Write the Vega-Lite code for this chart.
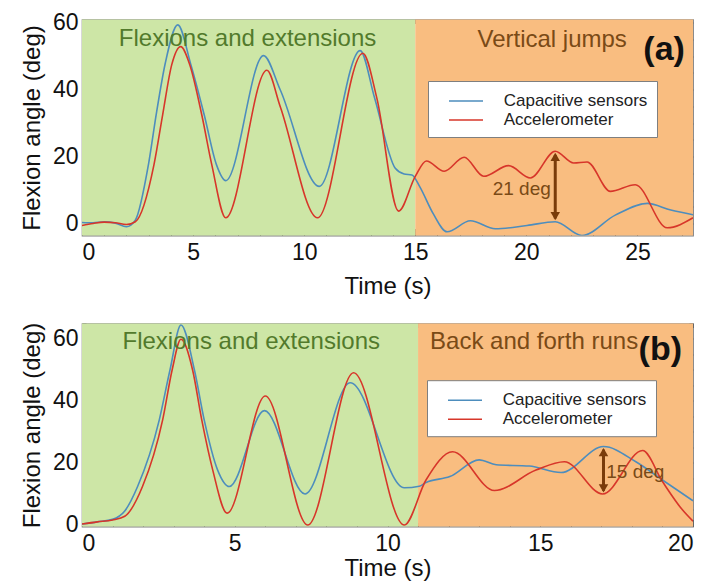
{
  "$schema": "https://vega.github.io/schema/vega-lite/v6.json",
  "background": "white",
  "padding": {"left": 19, "top": 10.5, "right": 5, "bottom": 0},
  "spacing": 22,
  "config": {
    "font": "Liberation Sans",
    "view": {"stroke": "#7f7f7f", "strokeWidth": 1.2},
    "axis": {"domain": false, "grid": false, "labelFont": "Liberation Sans", "labelFontSize": 23, "labelColor": "#111", "titleFont": "Liberation Sans", "titleFontSize": 24, "titleFontWeight": "normal", "titleColor": "#111", "tickColor": "#666", "tickWidth": 1}
  },
  "resolve": {"scale": {"color": "independent", "fill": "independent"}, "legend": {"color": "independent"}},
  "vconcat": [
    {
      "width": 611, "height": 216,
      "resolve": {"axis": {"x": "independent", "y": "independent"}},
      "layer": [
        {
          "data": {"values": [{"t0": 0, "t1": 15, "phase": "flexion"}, {"t0": 15, "t1": 27.5, "phase": "activity"}]},
          "mark": {"type": "rect"},
          "encoding": {
            "x": {"field": "t0", "type": "quantitative", "scale": {"domain": [0, 27.5], "nice": false, "zero": false},
                  "axis": {"orient": "bottom", "values": [0, 5, 10, 15, 20, 25], "tickSize": -7, "labelPadding": 13, "title": "Time (s)", "titlePadding": 10, "format": "d"}},
            "x2": {"field": "t1"},
            "fill": {"field": "phase", "type": "nominal", "scale": {"domain": ["flexion", "activity"], "range": ["#cde6a6", "#f9bd80"]}, "legend": null}
          }
        },
        {
          "data": {"values": [
            {"t": 0, "v": 0.3, "series": "Capacitive sensors"},
            {"t": 0.5, "v": 0.2, "series": "Capacitive sensors"},
            {"t": 1.0, "v": 0.5, "series": "Capacitive sensors"},
            {"t": 1.5, "v": 0.1, "series": "Capacitive sensors"},
            {"t": 2.0, "v": -1.0, "series": "Capacitive sensors"},
            {"t": 2.4, "v": 1.0, "series": "Capacitive sensors"},
            {"t": 3.0, "v": 18, "series": "Capacitive sensors"},
            {"t": 3.35, "v": 33, "series": "Capacitive sensors"},
            {"t": 3.75, "v": 48, "series": "Capacitive sensors"},
            {"t": 4.31, "v": 59.4, "series": "Capacitive sensors"},
            {"t": 4.9, "v": 47.5, "series": "Capacitive sensors"},
            {"t": 5.5, "v": 32.5, "series": "Capacitive sensors"},
            {"t": 6.05, "v": 17.6, "series": "Capacitive sensors"},
            {"t": 6.47, "v": 12.8, "series": "Capacitive sensors"},
            {"t": 8.17, "v": 50.2, "series": "Capacitive sensors"},
            {"t": 8.92, "v": 40, "series": "Capacitive sensors"},
            {"t": 10.68, "v": 11.1, "series": "Capacitive sensors"},
            {"t": 12.52, "v": 51.7, "series": "Capacitive sensors"},
            {"t": 13.17, "v": 37.5, "series": "Capacitive sensors"},
            {"t": 14.1, "v": 16.5, "series": "Capacitive sensors"},
            {"t": 14.5, "v": 14.8, "series": "Capacitive sensors"},
            {"t": 14.85, "v": 14.5, "series": "Capacitive sensors"},
            {"t": 15.2, "v": 11, "series": "Capacitive sensors"},
            {"t": 15.8, "v": 3, "series": "Capacitive sensors"},
            {"t": 16.43, "v": -2.5, "series": "Capacitive sensors"},
            {"t": 17.48, "v": 0.8, "series": "Capacitive sensors"},
            {"t": 18.6, "v": -1.6, "series": "Capacitive sensors"},
            {"t": 20.03, "v": -0.6, "series": "Capacitive sensors"},
            {"t": 21.3, "v": 0.5, "series": "Capacitive sensors"},
            {"t": 22.5, "v": -3.6, "series": "Capacitive sensors"},
            {"t": 24.0, "v": 2.5, "series": "Capacitive sensors"},
            {"t": 25.45, "v": 6.0, "series": "Capacitive sensors"},
            {"t": 26.5, "v": 4.0, "series": "Capacitive sensors"},
            {"t": 27.5, "v": 2.6, "series": "Capacitive sensors"},
            {"t": 0, "v": -0.6, "series": "Accelerometer"},
            {"t": 0.5, "v": 0.0, "series": "Accelerometer"},
            {"t": 1.0, "v": 0.4, "series": "Accelerometer"},
            {"t": 1.5, "v": 0.2, "series": "Accelerometer"},
            {"t": 2.0, "v": -0.3, "series": "Accelerometer"},
            {"t": 2.4, "v": 0.5, "series": "Accelerometer"},
            {"t": 3.24, "v": 17.6, "series": "Accelerometer"},
            {"t": 3.63, "v": 32.5, "series": "Accelerometer"},
            {"t": 4.04, "v": 47.5, "series": "Accelerometer"},
            {"t": 4.44, "v": 52.9, "series": "Accelerometer"},
            {"t": 4.85, "v": 47.5, "series": "Accelerometer"},
            {"t": 5.39, "v": 32.5, "series": "Accelerometer"},
            {"t": 5.84, "v": 17.6, "series": "Accelerometer"},
            {"t": 6.47, "v": 1.7, "series": "Accelerometer"},
            {"t": 8.32, "v": 45.8, "series": "Accelerometer"},
            {"t": 8.92, "v": 35, "series": "Accelerometer"},
            {"t": 10.6, "v": 1.7, "series": "Accelerometer"},
            {"t": 12.64, "v": 50.9, "series": "Accelerometer"},
            {"t": 13.27, "v": 37.5, "series": "Accelerometer"},
            {"t": 14.25, "v": 3.7, "series": "Accelerometer"},
            {"t": 15.0, "v": 14.1, "series": "Accelerometer"},
            {"t": 15.5, "v": 18.7, "series": "Accelerometer"},
            {"t": 16.3, "v": 15.6, "series": "Accelerometer"},
            {"t": 17.2, "v": 19.8, "series": "Accelerometer"},
            {"t": 18.08, "v": 14.1, "series": "Accelerometer"},
            {"t": 19.2, "v": 17.3, "series": "Accelerometer"},
            {"t": 20.18, "v": 13.6, "series": "Accelerometer"},
            {"t": 21.3, "v": 21.6, "series": "Accelerometer"},
            {"t": 22.13, "v": 18.1, "series": "Accelerometer"},
            {"t": 22.73, "v": 18.4, "series": "Accelerometer"},
            {"t": 23.78, "v": 9.6, "series": "Accelerometer"},
            {"t": 24.9, "v": 11.6, "series": "Accelerometer"},
            {"t": 26.34, "v": -1.3, "series": "Accelerometer"},
            {"t": 27.5, "v": 1.7, "series": "Accelerometer"}
          ]},
          "mark": {"type": "line", "interpolate": "monotone", "strokeWidth": 1.6, "clip": true},
          "encoding": {
            "x": {"field": "t", "type": "quantitative", "axis": {"orient": "bottom", "values": [0,1,2,3,4,5,6,7,8,9,10,11,12,13,14,15,16,17,18,19,20,21,22,23,24,25,26,27], "labels": false, "tickSize": -4, "title": null}},
            "y": {"field": "v", "type": "quantitative", "scale": {"domain": [-3.6, 61], "nice": false, "zero": false},
                  "axis": {"orient": "left", "values": [0, 20, 40, 60], "tickSize": -7, "labelPadding": 11, "title": "Flexion angle (deg)", "titlePadding": 8}},
            "color": {"field": "series", "type": "nominal", "sort": null,
                      "scale": {"domain": ["Capacitive sensors", "Accelerometer"], "range": ["#4d8dbd", "#d7362a"]},
                      "legend": {"orient": "none", "legendX": 346, "legendY": 61.5, "title": null, "fillColor": "white", "strokeColor": "#7f7f7f", "padding": 9, "symbolType": "M-1.7,0H1.7", "symbolSize": 400, "symbolStrokeWidth": 1.6, "labelFontSize": 17, "labelFont": "Liberation Sans", "labelColor": "#222", "symbolOffset": 18, "labelOffset": 26.7, "rowPadding": 0}}
          }
        },
        {
          "data": {"values": [{"t": 7.45, "v": 55.2, "label": "Flexions and extensions"}]},
          "mark": {"type": "text", "fontSize": 24, "color": "#527a2c", "align": "center", "baseline": "middle"},
          "encoding": {
            "x": {"field": "t", "type": "quantitative", "axis": {"orient": "top", "values": [0,1,2,3,4,5,6,7,8,9,10,11,12,13,14,15,16,17,18,19,20,21,22,23,24,25,26,27], "labels": false, "tickSize": -4, "title": null}},
            "y": {"field": "v", "type": "quantitative", "axis": {"orient": "left", "values": [0,5,10,15,20,25,30,35,40,45,50,55,60], "labels": false, "tickSize": -4, "title": null}},
            "text": {"field": "label"}
          }
        },
        {
          "data": {"values": [{"t": 21.16, "v": 54.9, "label": "Vertical jumps"}]},
          "mark": {"type": "text", "fontSize": 24, "color": "#7a4a16", "align": "center", "baseline": "middle"},
          "encoding": {
            "x": {"field": "t", "type": "quantitative", "axis": null},
            "y": {"field": "v", "type": "quantitative", "axis": {"orient": "right", "values": [0,5,10,15,20,25,30,35,40,45,50,55,60], "labels": false, "tickSize": -4, "title": null}},
            "text": {"field": "label"}
          }
        },
        {
          "data": {"values": [{"t": 21.3, "v1": 1.5, "v2": 20.5}]},
          "mark": {"type": "rule", "strokeWidth": 3, "color": "#7a3c0a"},
          "encoding": {
            "x": {"field": "t", "type": "quantitative", "axis": null},
            "y": {"field": "v1", "type": "quantitative", "axis": null},
            "y2": {"field": "v2"}
          }
        },
        {
          "data": {"values": [{"t": 21.3, "v": 19.9, "dir": "up"}, {"t": 21.3, "v": 2.2, "dir": "down"}]},
          "mark": {"type": "point", "filled": true, "opacity": 1, "size": 90, "color": "#7a3c0a"},
          "encoding": {
            "x": {"field": "t", "type": "quantitative", "axis": null},
            "y": {"field": "v", "type": "quantitative", "axis": null},
            "shape": {"field": "dir", "type": "nominal", "scale": {"domain": ["up", "down"], "range": ["triangle-up", "triangle-down"]}, "legend": null}
          }
        },
        {
          "data": {"values": [{"t": 21.1, "v": 10.2, "label": "21 deg"}]},
          "mark": {"type": "text", "fontSize": 19, "color": "#7a4a16", "align": "right", "baseline": "middle"},
          "encoding": {
            "x": {"field": "t", "type": "quantitative", "axis": null},
            "y": {"field": "v", "type": "quantitative", "axis": null},
            "text": {"field": "label"}
          }
        },
        {
          "data": {"values": [{"t": 26.2, "v": 52, "label": "(a)"}]},
          "mark": {"type": "text", "fontSize": 34, "fontWeight": "bold", "color": "#111", "align": "center", "baseline": "middle"},
          "encoding": {
            "x": {"field": "t", "type": "quantitative", "axis": null},
            "y": {"field": "v", "type": "quantitative", "axis": null},
            "text": {"field": "label"}
          }
        }
      ]
    },
    {
      "width": 611, "height": 203,
      "resolve": {"axis": {"x": "independent", "y": "independent"}},
      "layer": [
        {
          "data": {"values": [{"t0": 0, "t1": 11, "phase": "flexion"}, {"t0": 11, "t1": 20, "phase": "activity"}]},
          "mark": {"type": "rect"},
          "encoding": {
            "x": {"field": "t0", "type": "quantitative", "scale": {"domain": [0, 20], "nice": false, "zero": false},
                  "axis": {"orient": "bottom", "values": [0, 5, 10, 15, 20], "tickSize": -7, "labelPadding": 13, "title": "Time (s)", "titlePadding": 1, "format": "d"}},
            "x2": {"field": "t1"},
            "fill": {"field": "phase", "type": "nominal", "scale": {"domain": ["flexion", "activity"], "range": ["#cde6a6", "#f9bd80"]}, "legend": null}
          }
        },
        {
          "data": {"values": [
            {"t": 0, "v": 0.3, "series": "Capacitive sensors"},
            {"t": 0.5, "v": 1.0, "series": "Capacitive sensors"},
            {"t": 1.0, "v": 1.8, "series": "Capacitive sensors"},
            {"t": 1.4, "v": 4.5, "series": "Capacitive sensors"},
            {"t": 1.82, "v": 12.4, "series": "Capacitive sensors"},
            {"t": 2.53, "v": 33.9, "series": "Capacitive sensors"},
            {"t": 2.88, "v": 50, "series": "Capacitive sensors"},
            {"t": 3.24, "v": 64.5, "series": "Capacitive sensors"},
            {"t": 3.68, "v": 50, "series": "Capacitive sensors"},
            {"t": 4.0, "v": 33.9, "series": "Capacitive sensors"},
            {"t": 4.44, "v": 17.7, "series": "Capacitive sensors"},
            {"t": 4.82, "v": 12.4, "series": "Capacitive sensors"},
            {"t": 5.97, "v": 36.9, "series": "Capacitive sensors"},
            {"t": 7.3, "v": 10, "series": "Capacitive sensors"},
            {"t": 8.78, "v": 45.9, "series": "Capacitive sensors"},
            {"t": 10.55, "v": 12.0, "series": "Capacitive sensors"},
            {"t": 11.04, "v": 12.5, "series": "Capacitive sensors"},
            {"t": 11.26, "v": 13.7, "series": "Capacitive sensors"},
            {"t": 12.04, "v": 15.6, "series": "Capacitive sensors"},
            {"t": 13.0, "v": 21, "series": "Capacitive sensors"},
            {"t": 13.56, "v": 19.4, "series": "Capacitive sensors"},
            {"t": 14.64, "v": 19.0, "series": "Capacitive sensors"},
            {"t": 15.68, "v": 16.9, "series": "Capacitive sensors"},
            {"t": 17.07, "v": 25.3, "series": "Capacitive sensors"},
            {"t": 18.13, "v": 20.4, "series": "Capacitive sensors"},
            {"t": 19.0, "v": 14.5, "series": "Capacitive sensors"},
            {"t": 20.0, "v": 7.8, "series": "Capacitive sensors"},
            {"t": 0, "v": 0.3, "series": "Accelerometer"},
            {"t": 0.5, "v": 1.0, "series": "Accelerometer"},
            {"t": 1.0, "v": 1.6, "series": "Accelerometer"},
            {"t": 1.4, "v": 2.8, "series": "Accelerometer"},
            {"t": 1.98, "v": 12.4, "series": "Accelerometer"},
            {"t": 2.64, "v": 33.9, "series": "Accelerometer"},
            {"t": 2.95, "v": 50, "series": "Accelerometer"},
            {"t": 3.24, "v": 59.9, "series": "Accelerometer"},
            {"t": 3.62, "v": 50, "series": "Accelerometer"},
            {"t": 3.92, "v": 33.9, "series": "Accelerometer"},
            {"t": 4.28, "v": 17.7, "series": "Accelerometer"},
            {"t": 4.75, "v": 3.8, "series": "Accelerometer"},
            {"t": 6.0, "v": 41.6, "series": "Accelerometer"},
            {"t": 7.39, "v": 0, "series": "Accelerometer"},
            {"t": 8.89, "v": 49.1, "series": "Accelerometer"},
            {"t": 10.55, "v": 0, "series": "Accelerometer"},
            {"t": 11.26, "v": 14.5, "series": "Accelerometer"},
            {"t": 12.13, "v": 23.6, "series": "Accelerometer"},
            {"t": 13.5, "v": 11.1, "series": "Accelerometer"},
            {"t": 14.86, "v": 17.7, "series": "Accelerometer"},
            {"t": 15.79, "v": 20.4, "series": "Accelerometer"},
            {"t": 17.04, "v": 10, "series": "Accelerometer"},
            {"t": 18.35, "v": 24.0, "series": "Accelerometer"},
            {"t": 19.0, "v": 14, "series": "Accelerometer"},
            {"t": 19.66, "v": 4.8, "series": "Accelerometer"},
            {"t": 20.0, "v": 1.2, "series": "Accelerometer"}
          ]},
          "mark": {"type": "line", "interpolate": "monotone", "strokeWidth": 1.6, "clip": true},
          "encoding": {
            "x": {"field": "t", "type": "quantitative", "axis": {"orient": "bottom", "values": [0,1,2,3,4,5,6,7,8,9,10,11,12,13,14,15,16,17,18,19,20], "labels": false, "tickSize": -4, "title": null}},
            "y": {"field": "v", "type": "quantitative", "scale": {"domain": [-0.5, 65], "nice": false, "zero": false},
                  "axis": {"orient": "left", "values": [0, 20, 40, 60], "tickSize": -7, "labelPadding": 11, "title": "Flexion angle (deg)", "titlePadding": 8}},
            "color": {"field": "series", "type": "nominal", "sort": null,
                      "scale": {"domain": ["Capacitive sensors", "Accelerometer"], "range": ["#4d8dbd", "#d7362a"]},
                      "legend": {"orient": "none", "legendX": 345, "legendY": 56.7, "title": null, "fillColor": "white", "strokeColor": "#7f7f7f", "padding": 9, "symbolType": "M-1.7,0H1.7", "symbolSize": 400, "symbolStrokeWidth": 1.6, "labelFontSize": 17, "labelFont": "Liberation Sans", "labelColor": "#222", "symbolOffset": 18, "labelOffset": 26.7, "rowPadding": 0}}
          }
        },
        {
          "data": {"values": [{"t": 5.54, "v": 59.1, "label": "Flexions and extensions"}]},
          "mark": {"type": "text", "fontSize": 24, "color": "#527a2c", "align": "center", "baseline": "middle"},
          "encoding": {
            "x": {"field": "t", "type": "quantitative", "axis": {"orient": "top", "values": [0,1,2,3,4,5,6,7,8,9,10,11,12,13,14,15,16,17,18,19,20], "labels": false, "tickSize": -4, "title": null}},
            "y": {"field": "v", "type": "quantitative", "axis": {"orient": "left", "values": [0,5,10,15,20,25,30,35,40,45,50,55,60,65], "labels": false, "tickSize": -4, "title": null}},
            "text": {"field": "label"}
          }
        },
        {
          "data": {"values": [{"t": 14.8, "v": 59.1, "label": "Back and forth runs"}]},
          "mark": {"type": "text", "fontSize": 24, "color": "#7a4a16", "align": "center", "baseline": "middle"},
          "encoding": {
            "x": {"field": "t", "type": "quantitative", "axis": null},
            "y": {"field": "v", "type": "quantitative", "axis": {"orient": "right", "values": [0,5,10,15,20,25,30,35,40,45,50,55,60,65], "labels": false, "tickSize": -4, "title": null}},
            "text": {"field": "label"}
          }
        },
        {
          "data": {"values": [{"t": 17.07, "v1": 11, "v2": 24.3}]},
          "mark": {"type": "rule", "strokeWidth": 3, "color": "#7a3c0a"},
          "encoding": {
            "x": {"field": "t", "type": "quantitative", "axis": null},
            "y": {"field": "v1", "type": "quantitative", "axis": null},
            "y2": {"field": "v2"}
          }
        },
        {
          "data": {"values": [{"t": 17.07, "v": 23.5, "dir": "up"}, {"t": 17.07, "v": 11.8, "dir": "down"}]},
          "mark": {"type": "point", "filled": true, "opacity": 1, "size": 90, "color": "#7a3c0a"},
          "encoding": {
            "x": {"field": "t", "type": "quantitative", "axis": null},
            "y": {"field": "v", "type": "quantitative", "axis": null},
            "shape": {"field": "dir", "type": "nominal", "scale": {"domain": ["up", "down"], "range": ["triangle-up", "triangle-down"]}, "legend": null}
          }
        },
        {
          "data": {"values": [{"t": 17.16, "v": 17.2, "label": "15 deg"}]},
          "mark": {"type": "text", "fontSize": 19, "color": "#7a4a16", "align": "left", "baseline": "middle"},
          "encoding": {
            "x": {"field": "t", "type": "quantitative", "axis": null},
            "y": {"field": "v", "type": "quantitative", "axis": null},
            "text": {"field": "label"}
          }
        },
        {
          "data": {"values": [{"t": 18.93, "v": 56.5, "label": "(b)"}]},
          "mark": {"type": "text", "fontSize": 34, "fontWeight": "bold", "color": "#111", "align": "center", "baseline": "middle"},
          "encoding": {
            "x": {"field": "t", "type": "quantitative", "axis": null},
            "y": {"field": "v", "type": "quantitative", "axis": null},
            "text": {"field": "label"}
          }
        }
      ]
    }
  ]
}
